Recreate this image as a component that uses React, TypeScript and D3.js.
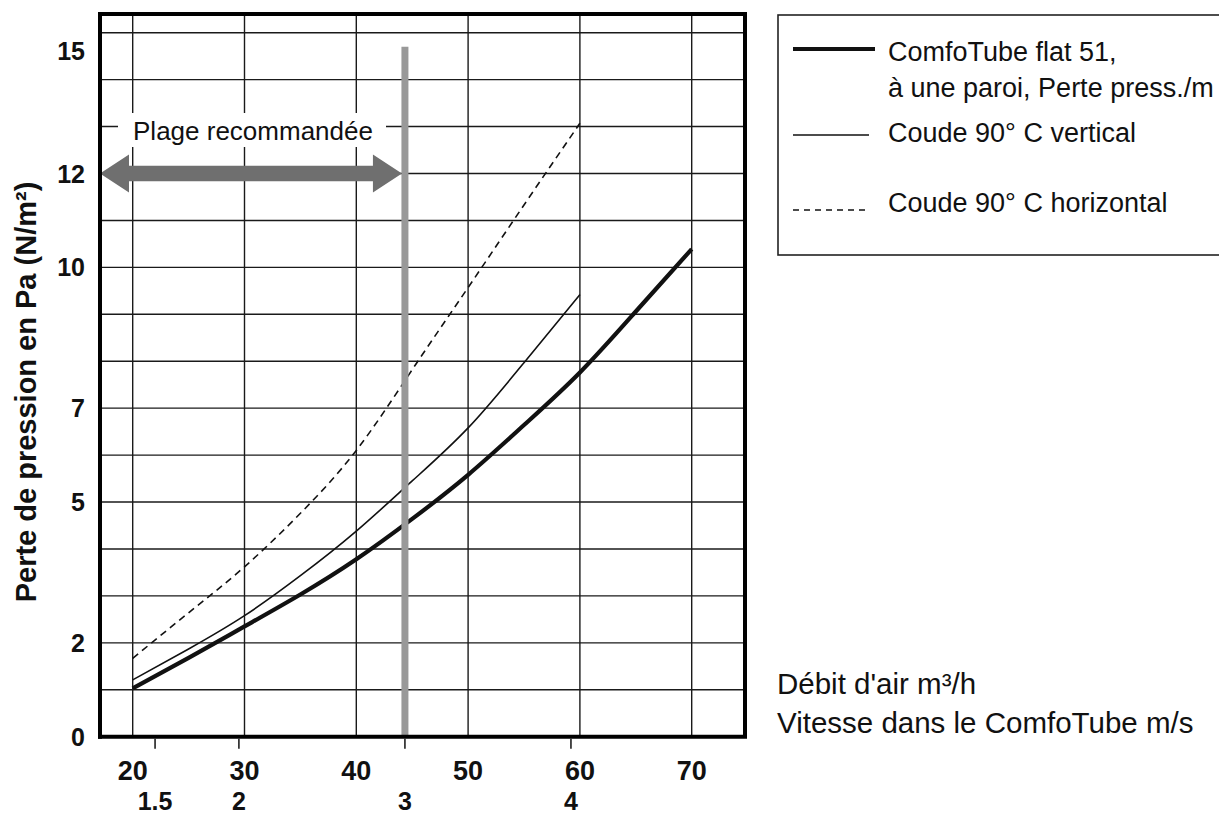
import React from "react";
import * as d3 from "d3";

// ---- data ----
const flowTicks = [20, 30, 40, 50, 60, 70];
const velocityLabels = ["1.5", "2", "3", "4"];
const velocityAtFlow = [22.0, 29.5, 44.35, 59.2];
const pressureTickLabels = ["0", "2", "5", "7", "10", "12", "15"];
const pressureTickAt = [0, 2, 5, 7, 10, 12, 14.6];
const pressureGrid = [1, 2, 3, 4, 5, 6, 7, 8, 9, 10, 11, 12, 13, 14, 15];

const tubeFlow = [20, 25, 30, 35, 40, 45, 50, 55, 60, 65, 70];
const tubeLoss = [1.03, 1.68, 2.35, 3.03, 3.78, 4.64, 5.58, 6.64, 7.76, 9.06, 10.39];
const bendFlow = [20, 25, 30, 35, 40, 45, 50, 55, 60];
const bendVertical = [1.21, 1.87, 2.58, 3.43, 4.38, 5.45, 6.58, 7.97, 9.42];
const bendHorizontal = [1.67, 2.64, 3.62, 4.76, 6.1, 7.82, 9.57, 11.33, 13.07];

const recommendedFlow = 44.35; // 3 m/s
const recommendedTop = 14.7;
const arrowLevel = 12;

const legendLabels = [
  ["ComfoTube flat 51,", "à une paroi, Perte press./m"],
  ["Coude 90° C vertical"],
  ["Coude 90° C horizontal"],
];

const FONT = "'Liberation Sans', Arial, Helvetica, sans-serif";

export default function App() {
  const W = 1219, H = 818;
  const left = 100, right = 745, top = 14, bottom = 736.7;
  const x = d3.scaleLinear().domain([20, 70]).range([132.7, 691.7]);
  const y = d3.scaleLinear().domain([0, 15]).range([bottom, 32.7]);

  const line = d3
    .line<[number, number]>()
    .x((d) => x(d[0]))
    .y((d) => y(d[1]))
    .curve(d3.curveNatural);

  const tubePath = line(tubeFlow.map((f, i) => [f, tubeLoss[i]]))!;
  const vertPath = line(bendFlow.map((f, i) => [f, bendVertical[i]]))!;
  const horizPath = line(bendFlow.map((f, i) => [f, bendHorizontal[i]]))!;

  const gx = x(recommendedFlow);
  const ay = y(arrowLevel);
  const ax0 = left;
  const ax1 = gx - 3;
  const headL = 29, headH = 19, shaft = 7.8;
  const arrowPts = [
    [ax0, ay],
    [ax0 + headL, ay - headH],
    [ax0 + headL, ay - shaft],
    [ax1 - headL, ay - shaft],
    [ax1 - headL, ay - headH],
    [ax1, ay],
    [ax1 - headL, ay + headH],
    [ax1 - headL, ay + shaft],
    [ax0 + headL, ay + shaft],
    [ax0 + headL, ay + headH],
  ]
    .map((p) => p.join(","))
    .join(" ");

  return (
    <svg
      width={W}
      height={H}
      viewBox={`0 0 ${W} ${H}`}
      style={{ position: "absolute", left: 0, top: 0, background: "#fff" }}
      fontFamily={FONT}
    >
      <rect x={0} y={0} width={W} height={H} fill="#fff" />
      {/* grid */}
      <g stroke="#1a1a1a" strokeWidth={1.4}>
        {pressureGrid.map((v) => (
          <line key={"h" + v} x1={left} x2={right} y1={y(v)} y2={y(v)} />
        ))}
        {flowTicks.map((f) => (
          <line key={"v" + f} x1={x(f)} x2={x(f)} y1={top} y2={bottom} />
        ))}
      </g>
      {/* recommended label with white background */}
      <rect x={118} y={113} width={268} height={34} fill="#fff" />
      <text
        x={253}
        y={131}
        fontSize={26}
        textAnchor="middle"
        dominantBaseline="central"
        fill="#111"
      >
        Plage recommandée
      </text>
      {/* curves */}
      <path d={horizPath} fill="none" stroke="#111" strokeWidth={1.6} strokeDasharray="7,5" />
      <path d={vertPath} fill="none" stroke="#111" strokeWidth={1.6} />
      <path d={tubePath} fill="none" stroke="#111" strokeWidth={4.2} />
      {/* recommended line */}
      <line
        x1={gx}
        x2={gx}
        y1={y(recommendedTop)}
        y2={bottom}
        stroke="#999"
        strokeWidth={7}
      />
      {/* arrow */}
      <polygon points={arrowPts} fill="#6f6f6f" />
      {/* frame */}
      <line x1={left} x2={left} y1={top - 2} y2={bottom + 2} stroke="#000" strokeWidth={4} />
      <line x1={left - 2} x2={right + 2} y1={bottom} y2={bottom} stroke="#000" strokeWidth={4} />
      <line x1={left} x2={right + 2} y1={top} y2={top} stroke="#000" strokeWidth={4} />
      <line x1={right} x2={right} y1={top} y2={bottom} stroke="#000" strokeWidth={4} />
      {/* velocity ticks */}
      {velocityAtFlow.map((f, i) => (
        <line key={"vt" + i} x1={x(f)} x2={x(f)} y1={bottom + 2} y2={bottom + 12} stroke="#111" strokeWidth={1.5} />
      ))}
      {/* y tick labels */}
      {pressureTickLabels.map((t, i) => (
        <text
          key={"yl" + t}
          x={85}
          y={y(pressureTickAt[i])}
          textAnchor="end"
          dominantBaseline="central"
          fontSize={25}
          fontWeight="bold"
          fill="#111"
        >
          {t}
        </text>
      ))}
      {/* x tick labels */}
      {flowTicks.map((f) => (
        <text
          key={"xl" + f}
          x={x(f)}
          y={771}
          textAnchor="middle"
          dominantBaseline="central"
          fontSize={27}
          fontWeight="bold"
          fill="#111"
        >
          {f}
        </text>
      ))}
      {velocityLabels.map((t, i) => (
        <text
          key={"vl" + t}
          x={x(velocityAtFlow[i])}
          y={801}
          textAnchor="middle"
          dominantBaseline="central"
          fontSize={25}
          fontWeight="bold"
          fill="#111"
        >
          {t}
        </text>
      ))}
      {/* y title */}
      <text
        transform="translate(26,392) rotate(-90)"
        textAnchor="middle"
        dominantBaseline="central"
        fontSize={29}
        fontWeight="bold"
        fill="#111"
      >
        Perte de pression en Pa (N/m²)
      </text>
      {/* legend */}
      <rect x={778} y={15} width={460} height={240} fill="none" stroke="#222" strokeWidth={1.6} />
      <line x1={793} x2={875} y1={49} y2={49} stroke="#111" strokeWidth={4} />
      <line x1={793} x2={869} y1={135} y2={135} stroke="#111" strokeWidth={1.6} />
      <line x1={793} x2={869} y1={210} y2={210} stroke="#111" strokeWidth={1.6} strokeDasharray="6,5" />
      <text x={888} y={52} fontSize={27} dominantBaseline="central" fill="#111">
        {legendLabels[0][0]}
      </text>
      <text x={888} y={88} fontSize={27} dominantBaseline="central" fill="#111">
        {legendLabels[0][1]}
      </text>
      <text x={888} y={133} fontSize={27} dominantBaseline="central" fill="#111">
        {legendLabels[1][0]}
      </text>
      <text x={888} y={203} fontSize={27} dominantBaseline="central" fill="#111">
        {legendLabels[2][0]}
      </text>
      {/* axis names */}
      <text x={777} y={683} fontSize={29.5} dominantBaseline="central" fill="#111">
        Débit d'air m³/h
      </text>
      <text x={777} y={722} fontSize={29.5} dominantBaseline="central" fill="#111">
        Vitesse dans le ComfoTube m/s
      </text>
    </svg>
  );
}
